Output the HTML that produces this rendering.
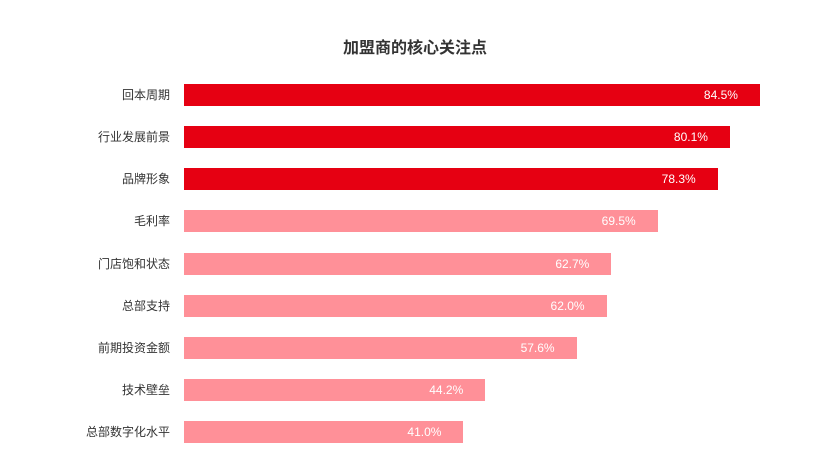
<!DOCTYPE html>
<html><head><meta charset="utf-8"><style>
body{margin:0;width:830px;height:460px;background:#fff;overflow:hidden;font-family:"Liberation Sans","Noto Sans CJK SC",sans-serif;position:relative}
.t{position:absolute;top:34px;left:0;width:830px;text-align:center;font-size:16px;font-weight:bold;color:#333}
.l{position:absolute;right:660px;font-size:12px;color:#333;line-height:22px;white-space:nowrap}
.b{position:absolute;left:184px;height:22px}
.v{position:absolute;font-size:12px;color:#fff;line-height:22px;text-align:right}
</style></head><body>
<div class="t">加盟商的核心关注点</div>
<div id="c"></div>
<script>
var d=[["回本周期",84.5],["行业发展前景",80.1],["品牌形象",78.3],["毛利率",69.5],["门店饱和状态",62.7],["总部支持",62.0],["前期投资金额",57.6],["技术壁垒",44.2],["总部数字化水平",41.0]];
var h="";
d.forEach(function(r,i){var y=84+i*42.15;var w=r[1]*6.816;var c=i<3?"#e60012":"#ff9098";
h+='<div class="l" style="top:'+y+'px">'+r[0]+'</div>';
h+='<div class="b" style="top:'+y+'px;width:'+w+'px;background:'+c+'"></div>';
h+='<div class="v" style="top:'+y+'px;left:'+(184+w-122)+'px;width:100px">'+r[1].toFixed(1)+'%</div>';});
document.getElementById("c").innerHTML=h;
</script>
</body></html>
